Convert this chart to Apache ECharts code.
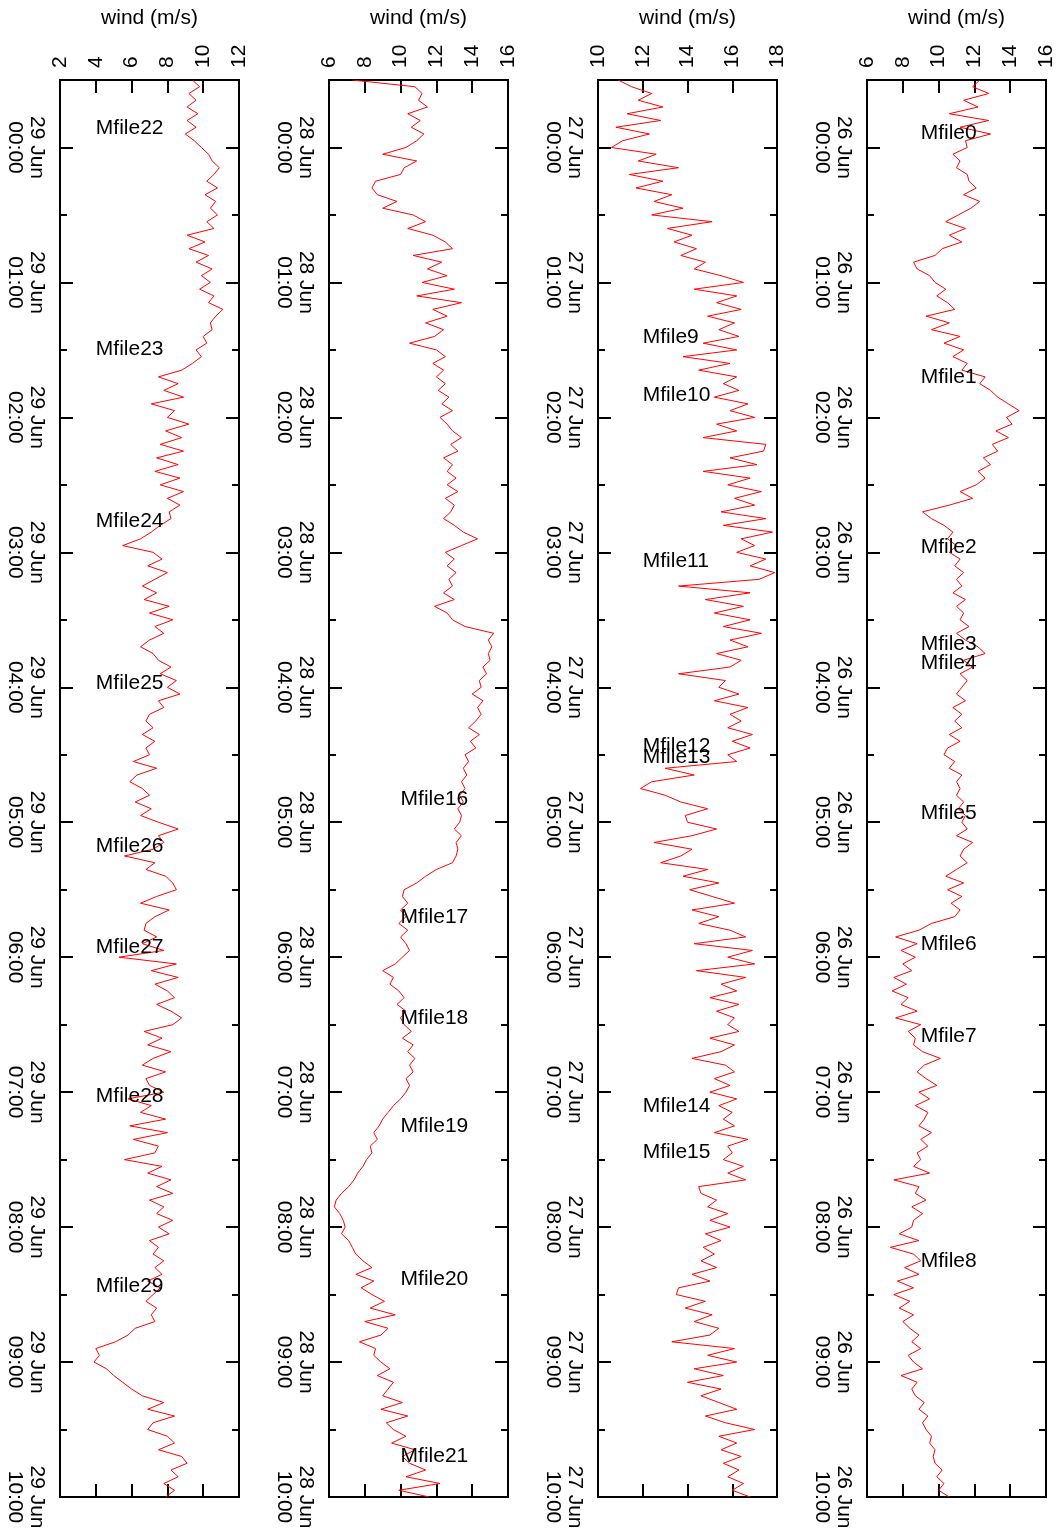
<!DOCTYPE html>
<html>
<head>
<meta charset="utf-8">
<script src="https://cdn.jsdelivr.net/npm/echarts@6/dist/echarts.min.js"></script>
<style>
html,body{margin:0;padding:0;background:#ffffff;}
#chart{width:1056px;height:1530px;}
</style>
</head>
<body>
<div id="chart"></div>
<script>
// ---------- data ----------
// samples every 3 minutes, first sample at 23:30 of the previous day (minute -30)
const startMinute = -30;
const stepMinutes = 3;

const tickTimes = ['23:30','00:00','00:30','01:00','01:30','02:00','02:30','03:00','03:30','04:00','04:30',
  '05:00','05:30','06:00','06:30','07:00','07:30','08:00','08:30','09:00','09:30','10:00'];

const panelDays = ['29 Jun', '28 Jun', '27 Jun', '26 Jun'];
const valueMin = [2, 6, 10, 6];
const valueMax = [12, 16, 18, 16];

const windJun29 = [
  9.4, 9.8, 9.2, 9.6, 9.1,   9.7, 9.1, 9.6, 9.0, 9.5,   9.9, 10.3, 10.5, 10.9, 10.6,
  10.2, 10.8, 10.1, 10.7, 10.4,   10.8, 10.2, 10.6, 9.1, 10.1,   9.2, 10.3, 9.6, 10.5, 9.9,
  10.4, 9.8, 10.6, 10.3, 11.1,   10.7, 10.4, 10.5, 10.0, 10.2,   9.6, 9.9, 9.4, 8.8, 7.5,
  8.6, 7.8, 8.9, 7.1, 8.4,   8.0, 9.2, 7.9, 8.8, 7.6,   8.9, 7.4, 8.6, 7.3, 8.7,
  7.6, 8.9, 8.0, 8.7, 8.1,   8.2, 7.6, 7.1, 6.5, 5.5,   7.2, 7.7, 6.9, 8.0, 7.3,
  6.6, 7.4, 6.7, 8.1, 7.0,   8.3, 7.3, 7.8, 7.0, 6.5,   7.2, 7.5, 8.2, 7.6, 8.5,
  8.0, 8.7, 7.5, 7.8, 7.0,   6.8, 7.2, 6.6, 7.3, 6.8,   7.0, 6.1, 7.4, 6.3, 5.9,
  6.6, 7.0, 6.2, 7.1, 6.5,   7.5, 8.6, 7.5, 7.8, 7.2,   5.6, 7.3, 6.8, 7.9, 8.3,
  8.5, 7.4, 6.5, 8.1, 7.3,   6.8, 6.7, 7.4, 6.6, 7.8,   5.3, 8.5, 7.1, 8.6, 7.3,
  8.0, 8.4, 7.4, 8.2, 8.8,   8.3, 6.7, 7.7, 6.9, 8.2,   7.2, 6.6, 7.9, 6.8, 7.0,
  7.8, 5.8, 7.1, 6.5, 7.9,   5.9, 8.0, 6.1, 7.5, 7.3,   5.6, 7.7, 6.9, 8.2, 7.4,
  8.3, 7.0, 7.8, 7.4, 8.3,   7.5, 8.1, 7.0, 7.5, 7.2,   7.8, 7.3, 7.7, 6.9, 7.6,
  7.2, 6.8, 7.4, 7.1, 7.3,   6.2, 5.8, 5.1, 4.0, 4.2,   3.9, 4.6, 5.0, 5.5, 6.0,
  6.6, 7.8, 6.9, 8.4, 7.2,   6.9, 8.0, 8.4, 7.5, 8.8,   9.1, 8.2, 8.6, 7.8, 8.4,
  7.9
];

const windJun28 = [
  7.3, 10.8, 11.2, 11.0, 11.5,   10.4, 11.1, 10.6, 11.3, 10.9,   10.3, 9.0, 10.9, 10.2, 10.0,
  8.6, 8.4, 8.7, 9.8, 9.0,   10.7, 11.4, 10.4, 11.8, 12.5,   12.9, 10.7, 12.3, 11.5, 12.6,
  11.2, 13.0, 10.9, 13.4, 11.8,   12.6, 11.4, 12.4, 11.9, 10.5,   12.0, 12.5, 11.8, 12.4, 12.0,
  12.5, 12.1, 12.7, 12.3, 12.9,   12.2, 12.6, 12.9, 13.4, 12.8,   13.2, 12.4, 12.9, 12.6, 13.1,
  12.6, 13.2, 12.5, 13.0, 12.8,   12.4, 13.0, 13.5, 14.3, 13.4,   12.5, 13.0, 12.6, 13.1, 12.7,
  12.9, 12.4, 13.0, 11.9, 12.6,   12.9, 13.6, 15.2, 14.9, 15.1,   14.9, 15.0, 14.6, 14.8, 14.4,
  14.5, 14.0, 14.6, 14.3, 14.5,   14.2, 13.8, 14.4, 13.9, 14.2,   13.6, 13.8, 13.5, 13.7, 13.4,
  13.6, 13.3, 13.5, 13.2, 13.4,   13.3, 13.0, 13.4, 13.1, 13.2,   13.1, 12.9, 12.0, 11.4, 10.9,
  10.2, 10.1, 10.4, 10.0, 10.3,   9.9, 10.4, 10.0, 10.3, 10.5,   10.1, 9.7, 9.0, 9.6, 9.4,
  9.9, 10.2, 9.8, 10.3, 10.0,   10.2, 10.6, 10.1, 10.7, 10.4,   10.8, 10.5, 10.7, 10.3, 10.5,
  10.3, 10.0, 9.6, 9.3, 9.0,   8.8, 8.5, 8.7, 8.3, 8.4,   8.1, 7.9, 7.6, 7.4, 7.1,
  6.7, 6.4, 6.3, 6.6, 6.8,   6.9, 6.7, 7.1, 7.3, 7.5,   7.9, 8.4, 7.5, 8.5, 7.8,
  8.4, 9.1, 8.3, 9.7, 8.0,   9.3, 8.9, 7.7, 8.6, 8.5,   8.9, 9.4, 8.7, 9.6, 9.3,
  9.0, 10.1, 8.9, 10.4, 9.2,   9.6, 10.3, 9.5, 10.8, 10.1,   10.5, 11.4, 10.3, 12.2, 9.9,
  11.6
];

const windJun27 = [
  10.9, 11.5, 12.4, 11.8, 12.9,   11.3, 12.8, 10.8, 12.3, 11.1,   10.6, 12.6, 11.8, 13.6, 11.4,
  12.9, 11.7, 13.3, 12.5, 13.8,   12.4, 15.1, 13.1, 14.2, 13.4,   14.4, 13.7, 14.8, 14.3, 15.5,
  16.5, 14.3, 16.2, 15.3, 16.4,   14.9, 16.1, 15.4, 16.3, 14.7,   16.2, 13.8, 15.9, 14.5, 16.2,
  15.6, 16.3, 15.2, 16.7, 15.9,   17.0, 15.3, 16.2, 14.7, 17.5,   17.4, 15.9, 17.1, 14.7, 16.8,
  15.8, 17.3, 16.1, 17.0, 15.5,   17.5, 15.6, 17.8, 16.4, 17.0,   16.2, 17.5, 16.8, 17.9, 17.2,
  13.6, 16.8, 14.8, 16.5, 15.2,   16.8, 15.6, 17.3, 15.9, 16.7,   15.3, 16.4, 15.9, 13.6, 15.7,
  15.4, 16.3, 15.2, 16.7, 15.9,   16.4, 15.8, 16.9, 16.0, 16.8,   15.8, 16.2, 13.0, 14.3, 12.4,
  11.9, 13.0, 13.7, 14.9, 13.9,   14.0, 15.3, 14.2, 12.5, 14.2,   13.7, 12.8, 14.9, 13.8, 15.4,
  14.1, 15.1, 16.1, 14.2, 15.4,   14.5, 15.9, 16.6, 14.3, 16.9,   15.8, 17.0, 14.4, 16.6, 15.5,
  16.2, 15.0, 16.3, 15.3, 16.1,   15.8, 16.3, 15.0, 16.1, 15.5,   14.2, 15.7, 16.1, 15.2, 15.9,
  15.0, 16.2, 15.4, 16.0, 15.6,   16.1, 15.2, 16.7, 15.8, 16.0,   15.6, 16.5, 15.8, 16.6, 14.5,
  14.6, 15.3, 14.9, 15.8, 15.0,   15.9, 14.8, 15.5, 14.7, 15.2,   14.6, 15.3, 14.2, 15.0, 13.6,
  13.5, 14.8, 13.9, 15.1, 14.3,   15.4, 15.0, 13.3, 16.1, 14.9,   16.2, 14.3, 15.6, 14.0, 15.5,
  14.6, 15.4, 16.2, 14.8, 15.7,   17.0, 15.4, 16.2, 15.5, 16.4,   15.6, 16.3, 15.8, 16.5, 16.0,
  16.8
];

const windJun26 = [
  12.3, 11.9, 12.8, 11.4, 12.2,   10.6, 12.8, 11.2, 12.9, 11.5,   11.6, 10.8, 11.2, 11.0, 11.6,
  11.7, 12.1, 11.4, 12.3, 11.8,   11.1, 10.4, 11.5, 10.6, 11.3,   10.2, 9.8, 8.6, 8.8, 9.5,
  9.8, 10.4, 9.9, 10.5, 10.9,   9.3, 10.6, 9.6, 11.2, 10.3,   11.4, 10.8, 11.6, 11.3, 12.6,
  12.3, 12.9, 13.3, 13.9, 14.5,   13.8, 14.1, 13.2, 13.9, 13.0,   13.3, 12.5, 12.9, 12.2, 12.6,
  12.1, 11.2, 11.9, 10.6, 9.1,   9.6, 10.3, 10.8, 10.5, 11.0,   10.6, 11.2, 10.9, 11.4, 11.0,
  11.3, 10.8, 11.5, 11.0, 11.4,   11.2, 11.7, 11.0, 11.5, 12.2,   12.6, 11.4, 11.9, 11.2, 11.6,
  11.3, 11.0, 11.5, 10.8, 11.3,   10.9, 11.3, 10.6, 11.2, 10.5,   10.3, 10.9, 10.6, 11.3, 11.0,
  11.2, 11.0, 11.4, 11.1, 11.5,   11.3, 11.6, 11.0, 11.9, 11.4,   11.2, 11.6, 11.0, 10.4, 11.4,
  10.5, 11.3, 10.7, 11.2, 10.9,   9.6, 8.9, 7.6, 8.8, 7.9,   8.7, 8.0, 8.5, 7.5, 8.2,
  7.4, 8.3, 7.9, 8.8, 7.6,   9.0, 8.3, 8.7, 8.6, 9.1,   10.1, 9.2, 8.8, 9.3, 9.9,
  8.9, 9.5, 8.7, 9.4, 9.2,   8.9, 9.6, 9.0, 9.4, 8.8,   9.0, 8.6, 9.5, 7.5, 8.9,
  8.7, 9.3, 8.5, 9.1, 8.6,   8.5, 7.8, 8.9, 7.3, 8.6,   9.0, 8.1, 8.9, 7.7, 8.6,
  7.5, 8.4, 7.8, 8.6, 8.0,   8.4, 8.9, 8.5, 9.0, 8.3,   8.6, 9.1, 7.9, 8.8, 8.5,
  8.7, 9.2, 8.9, 9.4, 9.1,   9.3, 9.6, 9.5, 9.8, 9.7,   9.8, 10.2, 9.9, 10.3, 10.0,
  10.6
];

// file markers: names and their time (minutes after 00:00)
const markNamesJun29 = ['Mfile22','Mfile23','Mfile24','Mfile25','Mfile26','Mfile27','Mfile28','Mfile29'];
const markTimesJun29 = [-8.5, 89.6, 166, 238, 310.7, 355.6, 421.7, 506.4];
const markNamesJun28 = ['Mfile16','Mfile17','Mfile18','Mfile19','Mfile20','Mfile21'];
const markTimesJun28 = [289.9, 342.3, 387.2, 435.2, 503.1, 581.9];
const markNamesJun27 = ['Mfile9','Mfile10','Mfile11','Mfile12','Mfile13','Mfile14','Mfile15'];
const markTimesJun27 = [84.3, 110.2, 183.9, 266.4, 271.2, 426.4, 446.8];
const markNamesJun26 = ['Mfile0','Mfile1','Mfile2','Mfile3','Mfile4','Mfile5','Mfile6','Mfile7','Mfile8'];
const markTimesJun26 = [-6.5, 102.3, 177.8, 221.0, 229.2, 295.8, 354.4, 395.0, 495.0];

// ---------- layout / style ----------
const panels = [
  { day: panelDays[0], wind: windJun29, names: markNamesJun29, times: markTimesJun29, markX: 4,  left: 60 },
  { day: panelDays[1], wind: windJun28, names: markNamesJun28, times: markTimesJun28, markX: 10, left: 329 },
  { day: panelDays[2], wind: windJun27, names: markNamesJun27, times: markTimesJun27, markX: 12, left: 598 },
  { day: panelDays[3], wind: windJun26, names: markNamesJun26, times: markTimesJun26, markX: 9,  left: 867 }
];
const FONT = 'Liberation Sans, Arial, Helvetica, sans-serif';
const TXT = { color: '#000', fontFamily: FONT, fontSize: 21 };
const tickStyle = { color: '#000', width: 2 };
const noLine = { show: false, onZero: false };

const grids = [], xAxes = [], yAxes = [], series = [];
panels.forEach((p, i) => {
  grids.push({ left: p.left, top: 80, width: 179, height: 1417, show: true,
    outerBoundsMode: 'none', containLabel: false,
    borderColor: '#000', borderWidth: 2, backgroundColor: 'transparent' });
  const xBase = { type: 'value', gridIndex: i, min: valueMin[i], max: valueMax[i], interval: 2,
    axisLine: noLine, splitLine: { show: false },
    axisTick: { inside: true, length: 13, lineStyle: tickStyle } };
  xAxes.push(Object.assign({}, xBase, { position: 'top',
    name: 'wind (m/s)', nameLocation: 'middle', nameGap: 51, nameMoveOverlap: false,
    nameTextStyle: Object.assign({}, TXT),
    axisLabel: Object.assign({ rotate: -90, margin: 12, showMinLabel: true, showMaxLabel: true }, TXT) }));
  xAxes.push(Object.assign({}, xBase, { position: 'bottom', axisLabel: { show: false } }));

  const yVal = { type: 'value', gridIndex: i, min: -30, max: 600, interval: 30, inverse: true,
    axisLine: noLine, splitLine: { show: false }, axisLabel: { show: false },
    axisTick: { inside: true, length: 7, lineStyle: tickStyle } };
  yAxes.push(Object.assign({}, yVal, { position: 'left' }));
  yAxes.push(Object.assign({}, yVal, { position: 'right' }));
  const yCat = { type: 'category', gridIndex: i, data: tickTimes, boundaryGap: false, inverse: true,
    axisLine: noLine, splitLine: { show: false },
    axisTick: { inside: true, length: 13, lineStyle: tickStyle, interval: (idx) => idx % 2 === 1 } };
  yAxes.push(Object.assign({}, yCat, { position: 'left',
    axisLabel: Object.assign({ rotate: -90, margin: 12, lineHeight: 22,
      interval: (idx) => idx % 2 === 1,
      formatter: (v) => p.day + '\n' + v }, TXT) }));
  yAxes.push(Object.assign({}, yCat, { position: 'right', axisLabel: { show: false } }));

  series.push({
    type: 'line', xAxisIndex: 2 * i, yAxisIndex: 4 * i,
    data: p.wind.map((w, k) => [w, startMinute + k * stepMinutes]),
    showSymbol: false, symbol: 'none',
    lineStyle: { color: '#ff0000', width: 1 }, itemStyle: { color: '#ff0000' },
    silent: true, animation: false, z: 3
  });
  series.push({
    type: 'scatter', xAxisIndex: 2 * i, yAxisIndex: 4 * i,
    symbolSize: 0, silent: true, animation: false, z: 4,
    itemStyle: { opacity: 1 },
    data: p.names.map((n, k) => ({ name: n, value: [p.markX, p.times[k]] })),
    label: Object.assign({ show: true, position: 'right', distance: 0, formatter: '{b}' }, TXT)
  });
});

const chart = echarts.init(document.getElementById('chart'), null, { renderer: 'canvas' });
chart.setOption({
  backgroundColor: '#ffffff',
  animation: false,
  grid: grids,
  xAxis: xAxes,
  yAxis: yAxes,
  series: series
});
</script>
</body>
</html>
